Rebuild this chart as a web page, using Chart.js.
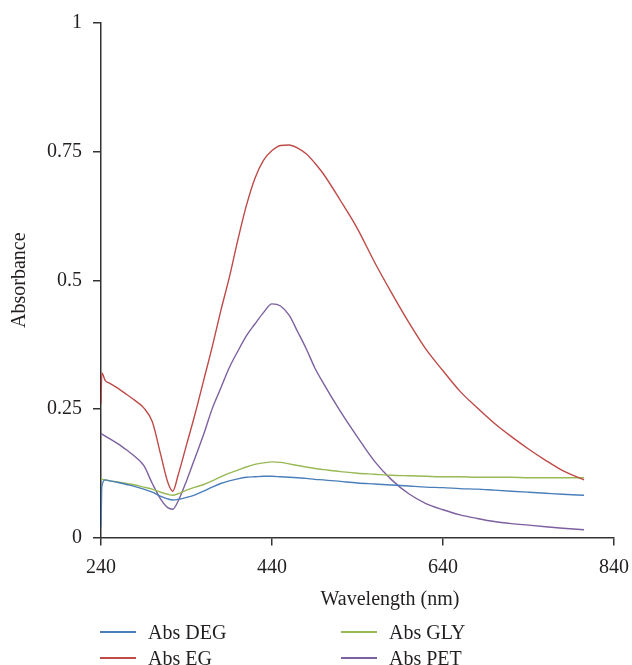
<!DOCTYPE html>
<html>
<head>
<meta charset="utf-8">
<script src="https://cdn.jsdelivr.net/npm/chart.js@4.4.1/dist/chart.umd.min.js"></script>
<style>
  html, body { margin: 0; padding: 0; background: #fff; }
  #wrap { position: relative; width: 632px; height: 665px; overflow: hidden;
          font-family: "Liberation Serif", serif; color: #231f20; }
  #chart { position: absolute; left: 0; top: 0; }
  .xtitle { position: absolute; left: 290px; width: 200px; top: 586px;
            text-align: center; font-size: 20px; line-height: 24px; white-space: nowrap; }
  .item { position: absolute; height: 26px; display: flex; align-items: center;
          font-size: 20px; line-height: 26px; white-space: nowrap; }
  .item .swatch { width: 36px; height: 2px; margin-right: 12px; }
</style>
</head>
<body>
<div id="wrap">
  <canvas id="chart" width="632" height="665"></canvas>
  <div class="xtitle">Wavelength (nm)</div>
  <div id="legend"></div>
</div>
<script>
// wavelength (nm) shared by all series
const wavelength = [240, 241, 245, 250, 260, 270, 280, 290, 300, 310, 318, 324, 330, 340, 350,
  360, 370, 380, 390, 400, 410, 420, 430, 440, 450, 460, 470, 480, 490, 500,
  520, 540, 560, 580, 600, 620, 640, 660, 680, 700, 720, 740, 760, 780, 805];

const absDEG = [0.02, 0.1, 0.112, 0.11, 0.107, 0.103, 0.099, 0.094, 0.088, 0.08, 0.075, 0.073, 0.074, 0.078, 0.083,
  0.09, 0.098, 0.105, 0.11, 0.114, 0.117, 0.118, 0.119, 0.119, 0.118, 0.117, 0.116, 0.115, 0.113, 0.112,
  0.109, 0.106, 0.104, 0.102, 0.1, 0.098, 0.097, 0.095, 0.094, 0.092, 0.09, 0.088, 0.086, 0.084, 0.082];

const absEG = [0.26, 0.32, 0.305, 0.3, 0.29, 0.278, 0.266, 0.252, 0.225, 0.16, 0.108, 0.09, 0.12, 0.18, 0.24,
  0.305, 0.37, 0.44, 0.505, 0.578, 0.645, 0.698, 0.733, 0.752, 0.762, 0.763, 0.757, 0.746, 0.728, 0.707,
  0.655, 0.6, 0.535, 0.475, 0.418, 0.366, 0.324, 0.284, 0.252, 0.222, 0.196, 0.172, 0.15, 0.13, 0.112];

const absGLY = [0.112, 0.113, 0.112, 0.11, 0.108, 0.105, 0.102, 0.098, 0.094, 0.088, 0.084, 0.082, 0.085, 0.092, 0.098,
  0.103, 0.11, 0.118, 0.125, 0.131, 0.137, 0.142, 0.145, 0.147, 0.146, 0.143, 0.14, 0.137, 0.134, 0.132,
  0.128, 0.125, 0.123, 0.121, 0.12, 0.119, 0.118, 0.118, 0.117, 0.117, 0.117, 0.116, 0.116, 0.116, 0.116];

const absPET = [0.202, 0.201, 0.197, 0.192, 0.182, 0.17, 0.157, 0.14, 0.105, 0.074, 0.058, 0.055, 0.07, 0.11, 0.155,
  0.2, 0.25, 0.29, 0.33, 0.362, 0.392, 0.415, 0.437, 0.454, 0.45, 0.432, 0.4, 0.367, 0.33, 0.3,
  0.245, 0.195, 0.148, 0.112, 0.085, 0.066, 0.054, 0.044, 0.037, 0.031, 0.027, 0.024, 0.021, 0.018, 0.015];

const xTicks = [240, 440, 640, 840];
const yTicks = [0, 0.25, 0.5, 0.75, 1];

const series = [
  { label: 'Abs DEG', values: absDEG, color: '#4a7ebb' },
  { label: 'Abs EG',  values: absEG,  color: '#be4b48' },
  { label: 'Abs GLY', values: absGLY, color: '#98b954' },
  { label: 'Abs PET', values: absPET, color: '#7d60a0' }
];

// legend columns: DEG / EG on the left, GLY / PET on the right
const legendSpots = { 'Abs DEG': [100, 619], 'Abs EG': [100, 645], 'Abs GLY': [341, 619], 'Abs PET': [341, 645] };

const FONT = { family: '"Liberation Serif", serif', size: 20 };
const INK = '#231f20';
const AXIS = '#333333';

new Chart(document.getElementById('chart'), {
  type: 'line',
  data: {
    datasets: series.map(s => ({
      label: s.label,
      data: wavelength.map((w, i) => ({ x: w, y: s.values[i] })),
      borderColor: s.color,
      backgroundColor: s.color,
      borderWidth: 1.4,
      pointRadius: 0,
      cubicInterpolationMode: 'monotone',
      fill: false
    }))
  },
  options: {
    responsive: false,
    animation: false,
    layout: { padding: { top: 20.5, right: 18, left: 0, bottom: 0 } },
    plugins: { legend: { display: false }, tooltip: { enabled: false } },
    scales: {
      x: {
        type: 'linear',
        min: 240, max: 840,
        afterBuildTicks: sc => { sc.ticks = xTicks.map(v => ({ value: v })); },
        afterFit: sc => { sc.height = 127.5; sc.paddingRight = 0; sc.paddingLeft = 0; },
        ticks: { callback: v => String(v), font: FONT, color: INK, padding: 10, maxRotation: 0 },
        grid: { drawOnChartArea: false, drawTicks: true, tickLength: 8, color: AXIS, lineWidth: 1.5 },
        border: { display: true, color: AXIS, width: 1.5 },
        title: { display: false }
      },
      y: {
        min: 0, max: 1,
        afterBuildTicks: sc => { sc.ticks = yTicks.map(v => ({ value: v })); },
        afterFit: sc => { sc.width = 101; },
        ticks: { callback: v => String(v), font: FONT, color: INK, padding: 11 },
        grid: { drawOnChartArea: false, drawTicks: true, tickLength: 8, color: AXIS, lineWidth: 1.5 },
        border: { display: true, color: AXIS, width: 1.5 },
        title: { display: true, text: 'Absorbance', font: FONT, color: INK, padding: { top: 8, bottom: 0 } }
      }
    }
  }
});

// legend
const legend = document.getElementById('legend');
series.forEach(s => {
  const [left, top] = legendSpots[s.label];
  const item = document.createElement('div');
  item.className = 'item';
  item.style.left = left + 'px';
  item.style.top = top + 'px';
  item.innerHTML = `<span class="swatch" style="background:${s.color}"></span><span>${s.label}</span>`;
  legend.appendChild(item);
});
</script>
</body>
</html>
